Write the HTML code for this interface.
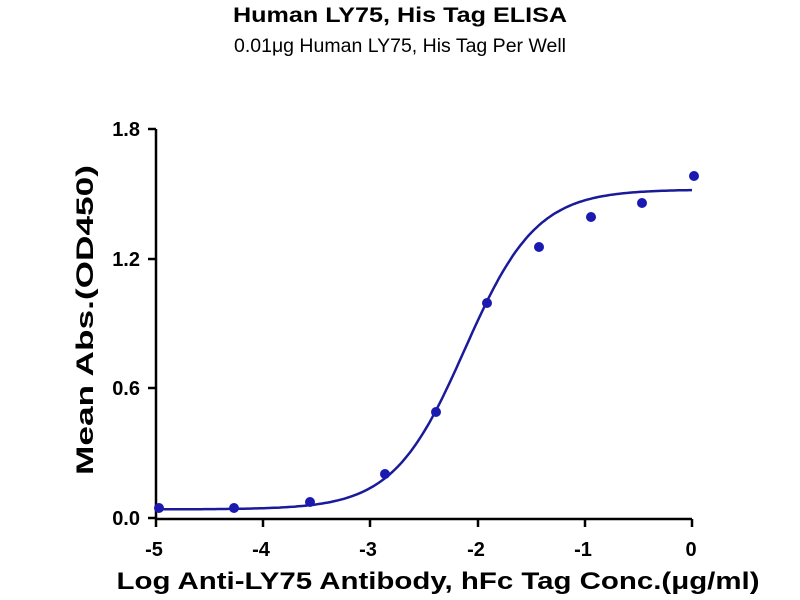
<!DOCTYPE html>
<html><head><meta charset="utf-8"><style>
html,body{margin:0;padding:0;background:#fff;}
svg{display:block;font-family:"Liberation Sans",Arial,sans-serif;}
</style></head><body>
<svg id="s" width="800" height="600" viewBox="0 0 800 600">
<text x="400" y="22" text-anchor="middle" font-size="21" font-weight="bold" textLength="334" lengthAdjust="spacingAndGlyphs">Human LY75, His Tag ELISA</text>
<text x="400" y="52" text-anchor="middle" font-size="19" textLength="332" lengthAdjust="spacingAndGlyphs">0.01μg Human LY75, His Tag Per Well</text>
<g stroke="#000" stroke-width="2.5" fill="none">
<line x1="156" y1="129" x2="156" y2="519"/>
<line x1="155" y1="519" x2="692" y2="519"/>
<line x1="148" y1="129" x2="156" y2="129"/>
<line x1="148" y1="259" x2="156" y2="259"/>
<line x1="148" y1="388" x2="156" y2="388"/>
<line x1="148" y1="518" x2="156" y2="518"/>
<line x1="156" y1="519" x2="156" y2="527"/>
<line x1="263" y1="519" x2="263" y2="527"/>
<line x1="370" y1="519" x2="370" y2="527"/>
<line x1="478" y1="519" x2="478" y2="527"/>
<line x1="585" y1="519" x2="585" y2="527"/>
<line x1="692" y1="519" x2="692" y2="527"/>
</g>
<g font-size="20" font-weight="bold" text-anchor="end">
<text x="140" y="136">1.8</text>
<text x="140" y="266">1.2</text>
<text x="140" y="395">0.6</text>
<text x="140" y="525">0.0</text>
</g>
<g font-size="20" font-weight="bold" text-anchor="middle">
<text x="154" y="556">-5</text>
<text x="261" y="556">-4</text>
<text x="368" y="556">-3</text>
<text x="476" y="556">-2</text>
<text x="583" y="556">-1</text>
<text x="691" y="556">0</text>
</g>
<text x="438" y="589" text-anchor="middle" font-size="24" font-weight="bold" textLength="643" lengthAdjust="spacingAndGlyphs">Log Anti-LY75 Antibody, hFc Tag Conc.(μg/ml)</text>
<text transform="translate(93,320) rotate(-90)" text-anchor="middle" font-size="24" font-weight="bold" textLength="310" lengthAdjust="spacingAndGlyphs">Mean Abs.(OD450)</text>
<path id="c" fill="none" stroke="#1a1a9a" stroke-width="2.5"/>
<g fill="#1a1ab0">
<circle cx="159" cy="508" r="5"/>
<circle cx="234" cy="508" r="5"/>
<circle cx="310" cy="502" r="5"/>
<circle cx="385" cy="474" r="5"/>
<circle cx="436" cy="412" r="5"/>
<circle cx="487" cy="303" r="5"/>
<circle cx="539" cy="247" r="5"/>
<circle cx="591" cy="217" r="5"/>
<circle cx="642" cy="203" r="5"/>
<circle cx="694" cy="176" r="5"/>
</g>
</svg>
<script>
var d="";for(var i=0;i<=200;i++){var x=-5+5*i/200;var y=0.04+1.48/(1+Math.pow(10,(-2.12-x)*1.3));
var px=156+(x+5)*107.2,py=518-y*216.1;d+=(i?"L":"M")+px.toFixed(1)+","+py.toFixed(1);}
document.getElementById("c").setAttribute("d",d);
</script>
</body></html>
